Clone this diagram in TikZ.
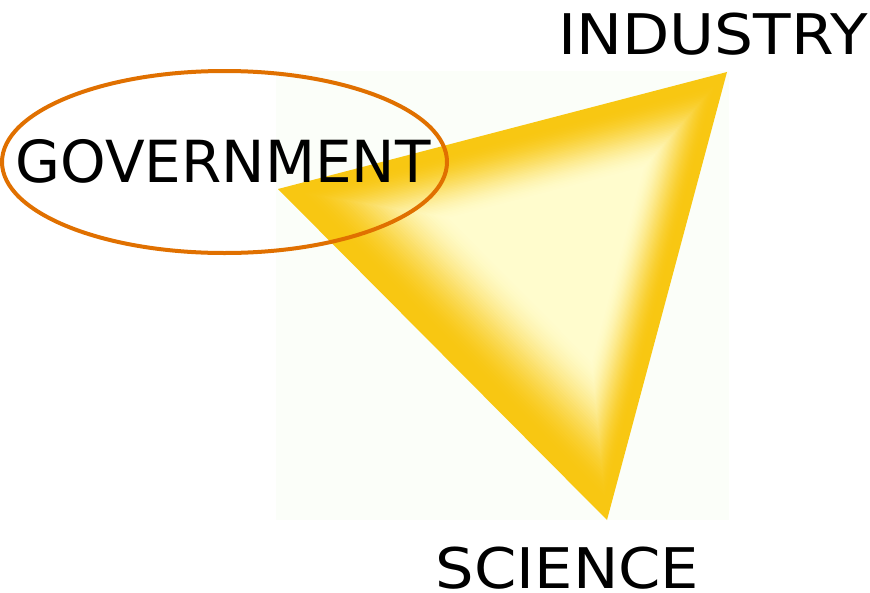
\documentclass[tikz,border=0pt]{standalone}
\usepackage{fontspec}
\setmainfont{DejaVu Sans}
\definecolor{trilight}{RGB}{255,252,205}
\definecolor{trigold}{RGB}{248,199,18}
\definecolor{ringorange}{RGB}{224,112,0}
\definecolor{panelbg}{RGB}{251,254,249}
\tikzset{
  label/.style={font=\fontsize{58}{58}\selectfont, text=black, inner sep=0pt, anchor=base},
  ring/.style={draw=ringorange, line width=4pt}
}
\begin{document}
\begin{tikzpicture}[x=1pt,y=-1pt]
\useasboundingbox (0,0) rectangle (870,592);
\fill[panelbg] (276,71) rectangle (729,520);
\foreach \i in {0,...,75} {
  \pgfmathsetmacro\s{1-\i/80}
  \pgfmathsetmacro\t{max(0,min(1,(0.94-\s)/0.52))}
  \pgfmathsetmacro\p{100*\t*\t*(3-2*\t)}
  \fill[trilight!\p!trigold, scale around={\s:(580,240)}] (278,189) -- (727,72) -- (607,520) -- cycle;
}
\draw[ring] (224.5,162) ellipse (222.5pt and 91pt);
\node[label] (gov) at (223,182) {GOVERNMENT};
\node[label, font=\fontsize{56}{56}\selectfont, xscale=1.097] (ind) at (713,54) {INDUSTRY};
\node[label, font=\fontsize{56}{56}\selectfont, xscale=1.084] (sci) at (567.5,588) {SCIENCE};
\end{tikzpicture}
\end{document}
